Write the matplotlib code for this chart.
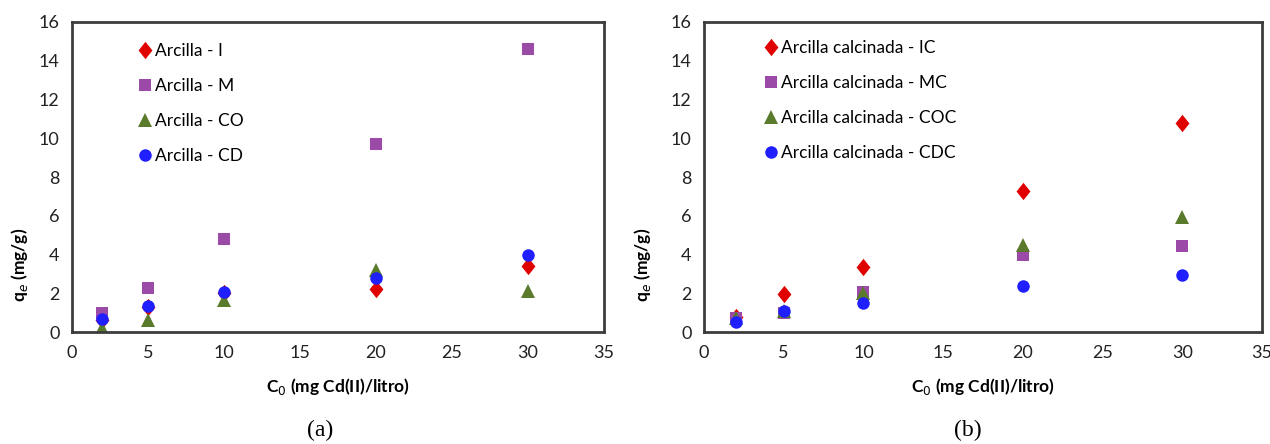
import matplotlib
matplotlib.use("Agg")
import matplotlib.pyplot as plt

plt.rcParams['font.family'] = ['Lato', 'DejaVu Sans']

# concentraciones iniciales
c0 = [2, 5, 10, 20, 30]

# (a) arcilla natural
qe_I = [0.6, 1.3, 2.0, 2.2, 3.42]
qe_M = [0.96, 2.29, 4.8, 9.7, 14.6]
qe_CO = [0.2, 0.62, 1.65, 3.2, 2.13]
qe_CD = [0.67, 1.34, 2.05, 2.77, 3.99]

# (b) arcilla calcinada
qe_IC = [0.8, 1.95, 3.37, 7.3, 10.8]
qe_MC = [0.72, 0.98, 2.05, 3.95, 4.45]
qe_COC = [0.7, 1.1, 2.0, 4.5, 5.95]
qe_CDC = [0.53, 1.08, 1.51, 2.35, 2.95]

labels_a = ["Arcilla - I", "Arcilla - M", "Arcilla - CO", "Arcilla - CD"]
labels_b = ["Arcilla calcinada - IC", "Arcilla calcinada - MC",
            "Arcilla calcinada - COC", "Arcilla calcinada - CDC"]

# rombo un poco alargado, como en excel
rombo = [(0, 1), (0.8, 0), (0, -1), (-0.8, 0), (0, 1)]
styles = [(rombo, "#e00000", 12.5), ("s", "#9b4aa8", 8.3),
          ("^", "#5a7a2c", 10), ("o", "#1f1fff", 9)]

fig = plt.figure(figsize=(12.7, 4.44), dpi=100)
ax_a = fig.add_axes([72 / 1270, 1 - 332 / 444, 532 / 1270, 310 / 444])
ax_b = fig.add_axes([704 / 1270, 1 - 332 / 444, 558 / 1270, 310 / 444])


def draw(ax, series, labels, legend_pos, ylab_x, caption, cap_x):
    for (m, col, ms), y, lab in zip(styles, series, labels):
        ax.plot(c0, y, linestyle="none", marker=m, color=col, markersize=ms,
                markeredgewidth=0, label=lab)
    ax.set_xlim(0, 35)
    ax.set_ylim(0, 16)
    ax.set_xticks(range(0, 36, 5))
    ax.set_yticks(range(0, 17, 2))
    ax.tick_params(length=0, labelsize=13, pad=9, colors="#222222")
    for sp in ax.spines.values():
        sp.set_color("#3c3c3c")
        sp.set_linewidth(2)
    ax.set_xlabel("C$_0$ (mg Cd(II)/litro)", fontsize=12.5, fontweight="bold",
                  labelpad=11)
    ax.set_ylabel("q$_e$ (mg/g)", fontsize=12.5, fontweight="bold")
    ax.yaxis.set_label_coords(ylab_x, 0.215)
    ax.legend(loc="upper left", bbox_to_anchor=legend_pos, frameon=False,
              fontsize=12.5, handlelength=0.8, handletextpad=0.15,
              labelspacing=1.1, borderaxespad=0)
    ax.text(cap_x, -0.316, caption, transform=ax.transAxes, ha="center",
            va="center", fontsize=17, family="Liberation Serif")


draw(ax_a, [qe_I, qe_M, qe_CO, qe_CD], labels_a, (0.112, 0.955), -0.079,
     "(a)", 0.466)
draw(ax_b, [qe_IC, qe_MC, qe_COC, qe_CDC], labels_b, (0.096, 0.965), -0.091,
     "(b)", 0.473)

fig.savefig("out.png", dpi=100)
